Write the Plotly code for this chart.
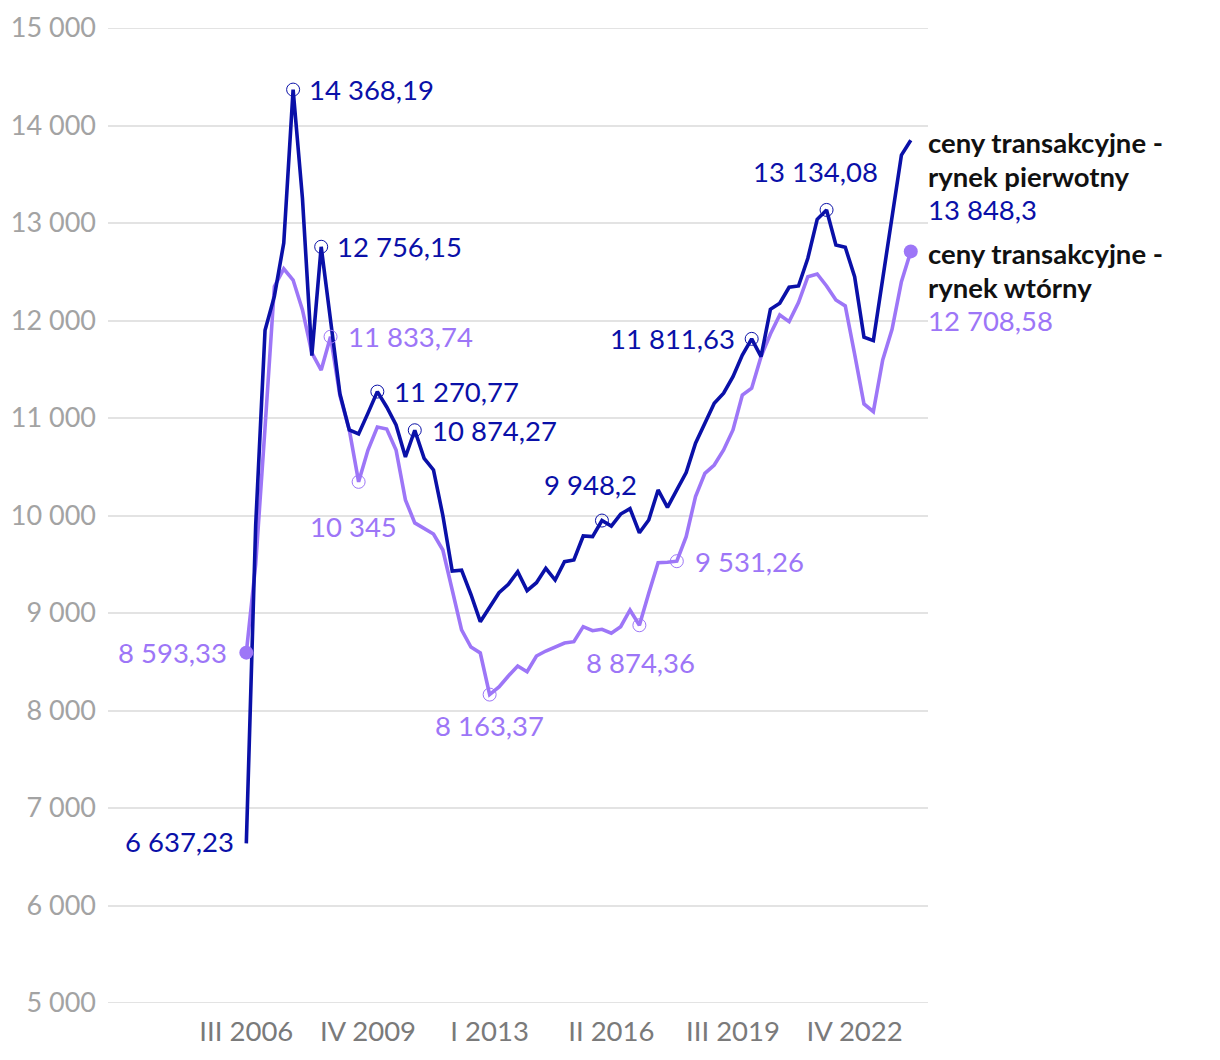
import plotly.graph_objects as go

# ---------------- data ----------------
roman = ["I", "II", "III", "IV"]
quarters = []
q, yr = 3, 2006
for _ in range(72):
    quarters.append(f"{roman[q-1]} {yr}")
    q += 1
    if q > 4:
        q, yr = 1, yr + 1

primary = [6637.23, 9900, 11900, 12250, 12795, 14368.19, 13250, 11640, 12756.15, 12000,
           11250, 10877, 10836, 11050, 11270.77, 11113, 10928, 10600, 10874.27, 10587,
           10467, 10000, 9430, 9440, 9190, 8911, 9060, 9208, 9294, 9424,
           9229, 9311, 9458, 9338, 9526, 9544, 9790, 9783, 9948.2, 9892,
           10015, 10070, 9823, 9954, 10262, 10084, 10262, 10440, 10742, 10946,
           11151, 11254, 11424, 11646, 11811.63, 11629, 12115, 12177, 12341, 12354,
           12638, 13038, 13134.08, 12774, 12751, 12449, 11828, 11793, 12415, 13048,
           13697, 13848.3]

secondary = [8593.33, 9500, 10900, 12350, 12530, 12415, 12108, 11667, 11492, 11833.74,
             11230, 10880, 10345, 10672, 10908, 10887, 10672, 10160, 9924, 9863,
             9810, 9646, 9250, 8826, 8651, 8590, 8163.37, 8241, 8354, 8456,
             8398, 8559, 8610, 8654, 8692, 8706, 8860, 8818, 8833, 8792,
             8860, 9031, 8874.36, 9202, 9516, 9520, 9531.26, 9783, 10195, 10433,
             10518, 10672, 10877, 11236, 11305, 11629, 11862, 12056, 11988, 12183,
             12449, 12477, 12354, 12210, 12149, 11656, 11144, 11065, 11595, 11910,
             12398, 12708.58]

name_primary = ["ceny transakcyjne -", "rynek pierwotny"]
name_secondary = ["ceny transakcyjne -", "rynek wtórny"]

xtick_labels = ["III 2006", "IV 2009", "I 2013", "II 2016", "III 2019", "IV 2022"]
ytick_vals = list(range(5000, 15001, 1000))

# labelled points (index, xshift, yshift, xanchor)
prim_labels = [(0, -10, 2, "right"), (5, 14, 0, "left"), (8, 14, 0, "left"),
               (14, 15, 0, "left"), (18, 15, 0, "left"), (38, -11, 36, "center"),
               (54, -15, 0, "right"), (62, -11, 38, "center")]
sec_labels = [(0, -17, 0, "right"), (9, 15, 0, "left"), (12, -5, -45, "center"),
              (26, 0, -31, "center"), (42, 1, -37, "center"), (46, 16, 0, "left")]

DARK = "#0a10a8"
PURPLE = "#9d76f7"
FONT = "Lato"
FS = 27.5


def fmt(v):
    s = f"{v:,.2f}".rstrip("0").rstrip(".")
    return s.replace(",", " ").replace(".", ",")


fig = go.Figure()
fig.add_trace(go.Scatter(x=quarters, y=secondary, mode="lines",
                         line=dict(color=PURPLE, width=3.6), showlegend=False))
fig.add_trace(go.Scatter(x=quarters, y=primary, mode="lines",
                         line=dict(color=DARK, width=3.6), showlegend=False))

# open circle markers
p_idx = [i for i, *_ in prim_labels if i != 0]
s_idx = [i for i, *_ in sec_labels if i != 0]
fig.add_trace(go.Scatter(x=[quarters[i] for i in p_idx], y=[primary[i] for i in p_idx],
                         mode="markers", marker=dict(symbol="circle-open", size=13,
                                                     color=DARK, line=dict(width=1)),
                         showlegend=False))
fig.add_trace(go.Scatter(x=[quarters[i] for i in s_idx], y=[secondary[i] for i in s_idx],
                         mode="markers", marker=dict(symbol="circle-open", size=13,
                                                     color=PURPLE, line=dict(width=1)),
                         showlegend=False))
# filled purple ends
fig.add_trace(go.Scatter(x=[quarters[0], quarters[-1]], y=[secondary[0], secondary[-1]],
                         mode="markers", marker=dict(size=14, color=PURPLE),
                         showlegend=False))

ann = []
for i, xs, ys, xa in prim_labels:
    ann.append(dict(x=quarters[i], y=primary[i], text=fmt(primary[i]), showarrow=False,
                    xanchor=xa, yanchor="middle", xshift=xs, yshift=ys,
                    font=dict(family=FONT, size=FS, color=DARK)))
for i, xs, ys, xa in sec_labels:
    ann.append(dict(x=quarters[i], y=secondary[i], text=fmt(secondary[i]), showarrow=False,
                    xanchor=xa, yanchor="middle", xshift=xs, yshift=ys,
                    font=dict(family=FONT, size=FS, color=PURPLE)))

# end labels
for series, names, col in [(primary, name_primary, DARK), (secondary, name_secondary, PURPLE)]:
    lines = [(f"<b>{names[0]}</b>", "#111111", -2),
             (f"<b>{names[1]}</b>", "#111111", -36),
             (fmt(series[-1]), col, -69)]
    for txt, c, ys in lines:
        ann.append(dict(x=quarters[-1], y=series[-1], text=txt, showarrow=False,
                        xanchor="left", yanchor="middle", xshift=15, yshift=ys,
                        font=dict(family=FONT, size=FS, color=c)))

fig.update_layout(
    width=1220, height=1060,
    margin=dict(l=108, r=292, t=28, b=57),
    paper_bgcolor="white", plot_bgcolor="white",
    separators=", ",
    font=dict(family=FONT),
    annotations=ann,
    showlegend=False,
)
# gridlines at the range edges (plotly omits them)
for yv in (ytick_vals[0], ytick_vals[-1]):
    fig.add_shape(type="line", xref="paper", x0=0, x1=1, yref="y", y0=yv, y1=yv,
                  line=dict(color="#e3e3e3", width=2), layer="below")

fig.update_xaxes(type="category", categoryorder="array", categoryarray=quarters,
                 range=[-14.78, 72.84], tickmode="array", tickvals=xtick_labels,
                 ticktext=xtick_labels, showgrid=False, zeroline=False, showline=False,
                 ticks="", ticklabelstandoff=9, automargin=False,
                 tickfont=dict(family=FONT, size=27.5, color="#7a7a7a"))
fig.update_yaxes(range=[5000, 15000], tickmode="array", tickvals=ytick_vals,
                 tickformat=",d", showgrid=True, gridcolor="#e3e3e3", gridwidth=2,
                 zeroline=False, showline=False, ticks="", ticklabelstandoff=11,
                 automargin=False,
                 tickfont=dict(family=FONT, size=27, color="#a3a3a3"))

fig.write_html("out.html")
